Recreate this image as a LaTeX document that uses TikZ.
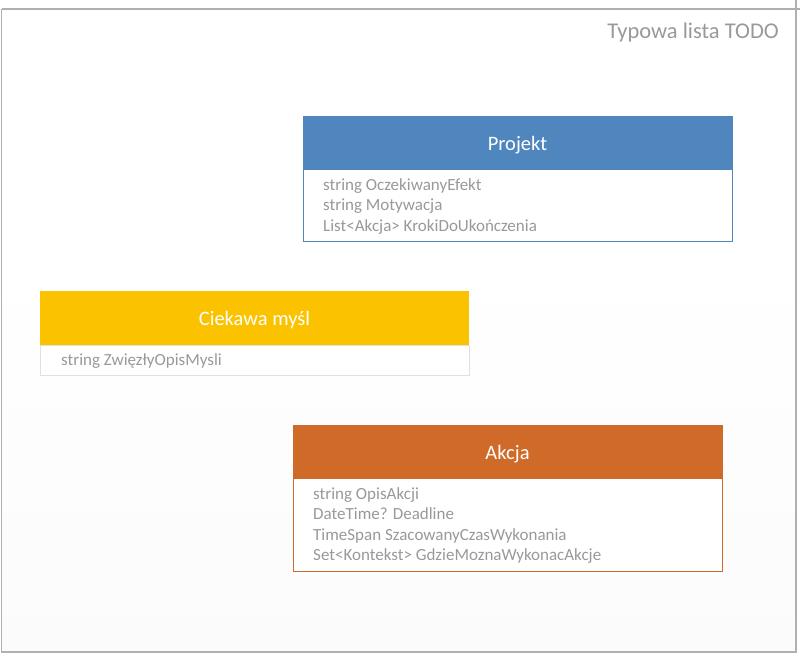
\documentclass[tikz,border=0pt]{standalone}
\usepackage{fontspec}
\setmainfont{Carlito}
\definecolor{pblue}{HTML}{4F86BE}
\definecolor{pyellow}{HTML}{FBC200}
\definecolor{porange}{HTML}{D06A29}
\definecolor{ptext}{HTML}{999999}
\definecolor{pframe}{HTML}{B0B0B0}
\begin{document}
\begin{tikzpicture}[x=1pt,y=-1pt,
  header/.style={font=\fontsize{20.5}{22}\selectfont, text=white, anchor=base, inner sep=0pt},
  attr/.style={font=\fontsize{17}{20}\selectfont, text=ptext, anchor=base west, inner sep=0pt},
  frameline/.style={draw=pframe, line width=1.2pt}]
\useasboundingbox (0,0) rectangle (800,654);
\fill[white] (0,0) rectangle (800,654);
\shade[top color=white, bottom color=black!1.5] (2,250) rectangle (795,651);
% outer frame
\draw[frameline] (1.5,9) -- (800,9);
\draw[frameline] (796,0) -- (796,652) -- (1.5,652) -- (1.5,9);
\node[font=\fontsize{22.5}{24}\selectfont, text=ptext, anchor=base east, inner sep=0pt] (title) at (779,38) {Typowa lista TODO};
% Projekt
\fill[white] (303,170) rectangle (732,241);
\fill[pblue] (303,116) rectangle (732,170);
\draw[pblue, line width=1pt] (303,116) rectangle (732,241);
\node[header] (projekt) at (517.5,150) {Projekt};
\node[attr] (p1) at (323,190) {string OczekiwanyEfekt};
\node[attr] (p2) at (323,210.5) {string Motywacja};
\node[attr] (p3) at (323,231) {List<Akcja> KrokiDoUkończenia};
% Ciekawa mysl
\fill[white] (40,345) rectangle (469,375);
\fill[pyellow] (40,291) rectangle (469,345);
\draw[black!12, line width=0.8pt] (40,345) rectangle (469,375);
\node[header] (mysl) at (254.5,325) {Ciekawa myśl};
\node[attr] (m1) at (61,365) {string ZwięzłyOpisMysli};
% Akcja
\fill[white] (293,479) rectangle (722,571);
\fill[porange] (293,425) rectangle (722,479);
\draw[porange, line width=1pt] (293,425) rectangle (722,571);
\node[header] (akcja) at (507.5,459) {Akcja};
\node[attr] (a1) at (313,499) {string OpisAkcji};
\node[attr] (a2) at (313,519.5) {DateTime? Deadline};
\node[attr] (a3) at (313,540) {TimeSpan SzacowanyCzasWykonania};
\node[attr] (a4) at (313,560.5) {Set<Kontekst> GdzieMoznaWykonacAkcje};
\end{tikzpicture}
\end{document}
